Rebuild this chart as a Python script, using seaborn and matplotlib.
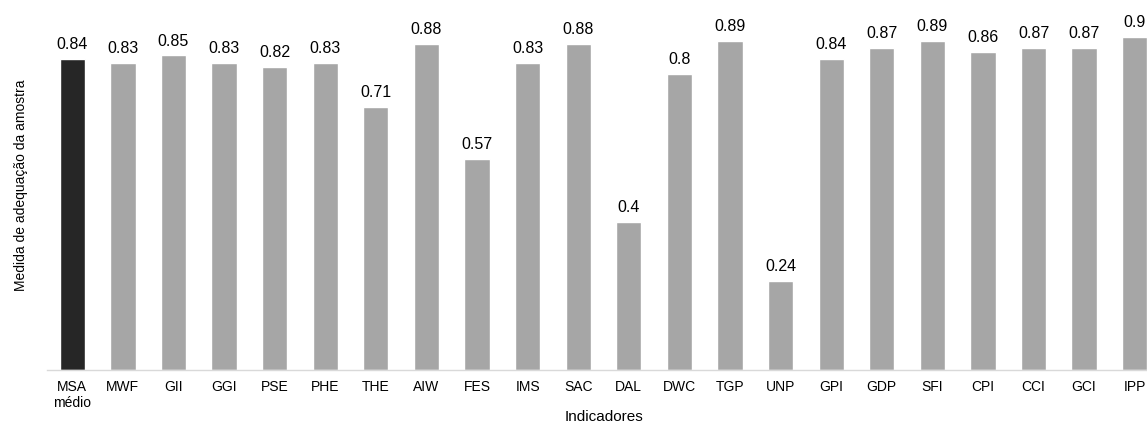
import matplotlib
matplotlib.use("Agg")
import matplotlib.pyplot as plt
import seaborn as sns
import pandas as pd

categories = ["MSA\nmédio", "MWF", "GII", "GGI", "PSE", "PHE", "THE", "AIW", "FES", "IMS",
              "SAC", "DAL", "DWC", "TGP", "UNP", "GPI", "GDP", "SFI", "CPI", "CCI", "GCI", "IPP"]
values = [0.84, 0.83, 0.85, 0.83, 0.82, 0.83, 0.71, 0.88, 0.57, 0.83,
          0.88, 0.4, 0.8, 0.89, 0.24, 0.84, 0.87, 0.89, 0.86, 0.87, 0.87, 0.9]
value_labels = ["0.84", "0.83", "0.85", "0.83", "0.82", "0.83", "0.71", "0.88", "0.57", "0.83",
                "0.88", "0.4", "0.8", "0.89", "0.24", "0.84", "0.87", "0.89", "0.86", "0.87", "0.87", "0.9"]

sns.set_theme(style="white")
plt.rcParams["font.family"] = ["Liberation Sans", "DejaVu Sans"]

df = pd.DataFrame({"cat": categories, "val": values})
palette = {c: ("#262626" if i == 0 else "#a6a6a6") for i, c in enumerate(categories)}

fig = plt.figure(figsize=(11.47, 4.23), dpi=100)
ax = fig.add_axes([47 / 1147, 53 / 423, 1113 / 1147, 370 / 423])

sns.barplot(data=df, x="cat", y="val", hue="cat", palette=palette, legend=False,
            width=0.5, saturation=1, ax=ax)

# one container per hue level, in category order
for cont, lab in zip(ax.containers, value_labels):
    ax.bar_label(cont, labels=[lab], padding=5, fontsize=11.5, color="#000000")

ax.set_ylim(0, 1.0)
ax.set_xlim(-0.5, 21.5)
ax.set_yticks([])
ax.tick_params(axis="x", length=0, labelsize=10, pad=7, colors="#000000")
for s in ["top", "right", "left"]:
    ax.spines[s].set_visible(False)
ax.spines["bottom"].set_color("#d9d9d9")
ax.spines["bottom"].set_linewidth(1.0)

ax.set_xlabel("Indicadores", fontsize=11, labelpad=0, color="#000000")
ax.set_ylabel("Medida de adequação da amostra", fontsize=10, labelpad=14, color="#000000")

fig.savefig("out.png", dpi=100)
